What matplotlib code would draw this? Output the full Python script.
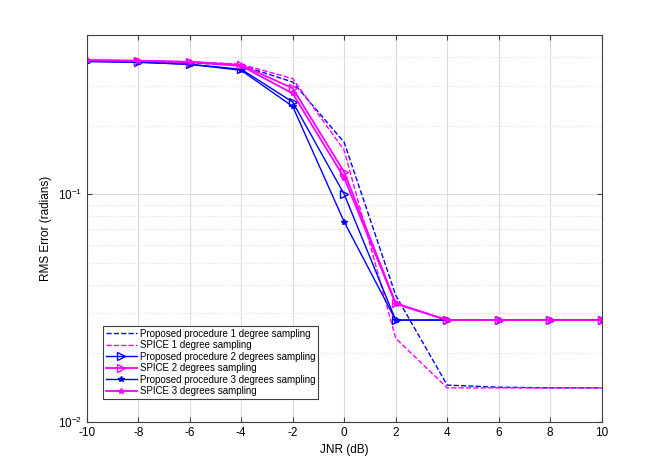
import numpy as np
import matplotlib
matplotlib.use('Agg')
import matplotlib.pyplot as plt

jnr = [-10, -8, -6, -4, -2, 0, 2, 4, 6, 8, 10]

prop_1deg = [0.385, 0.382, 0.378, 0.368, 0.311, 0.169, 0.036, 0.0145, 0.0142, 0.0141, 0.0141]
spice_1deg = [0.388, 0.386, 0.382, 0.372, 0.322, 0.156, 0.0233, 0.0141, 0.0141, 0.0141, 0.0141]
prop_2deg = [0.383, 0.380, 0.372, 0.354, 0.254, 0.100, 0.028, 0.028, 0.028, 0.028, 0.028]
spice_2deg = [0.388, 0.386, 0.381, 0.370, 0.292, 0.125, 0.0332, 0.028, 0.028, 0.028, 0.028]
prop_3deg = [0.383, 0.380, 0.372, 0.350, 0.243, 0.0756, 0.028, 0.028, 0.028, 0.028, 0.028]
spice_3deg = [0.387, 0.385, 0.380, 0.366, 0.277, 0.118, 0.0330, 0.028, 0.028, 0.028, 0.028]

plt.rcParams['font.family'] = ['Liberation Sans', 'DejaVu Sans']
plt.rcParams['axes.unicode_minus'] = False

fig = plt.figure(figsize=(6.64, 4.74), dpi=100)
ax = fig.add_axes([0.1306, 0.110, 0.7755, 0.816])

ax.semilogy(jnr, prop_1deg, 'b--', lw=1.0, label='Proposed procedure 1 degree sampling')
ax.semilogy(jnr, spice_1deg, '--', color='magenta', lw=1.0, label='SPICE 1 degree sampling')
ax.semilogy(jnr, prop_2deg, 'b-', marker='>', mfc='none', ms=6, lw=1.0,
            label='Proposed procedure 2 degrees sampling')
ax.semilogy(jnr, spice_2deg, '-', color='magenta', marker='>', mfc='none', ms=6, lw=1.3,
            label='SPICE 2 degrees sampling')
ax.semilogy(jnr, prop_3deg, 'b-', marker='*', ms=4, lw=1.0,
            label='Proposed procedure 3 degrees sampling')
ax.semilogy(jnr, spice_3deg, '-', color='magenta', marker='*', ms=4, lw=1.3,
            label='SPICE 3 degrees sampling')

ax.set_xlim(-10, 10)
ax.set_ylim(0.01, 0.5)
ax.set_xticks(np.arange(-10, 11, 2))
ax.grid(True, which='major', color='#dcdcdc', lw=0.8)
ax.grid(True, which='minor', color='#dcdcdc', lw=0.8, ls=':')
ax.tick_params(which='both', direction='in', top=True, right=True, labelsize=8.5,
               color='#404040')
ax.tick_params(which='minor', length=0)
for s in ax.spines.values():
    s.set_color('#404040')
    s.set_linewidth(0.8)

ax.set_xlabel('JNR (dB)', fontsize=8.5)
ax.set_ylabel('RMS Error (radians)', fontsize=8.5)

leg = ax.legend(loc='lower left', bbox_to_anchor=(0.031, 0.059), fontsize=7,
                fancybox=False, framealpha=1, edgecolor='#404040', handlelength=3.2,
                borderpad=0.3, labelspacing=0.15, handletextpad=0.3, borderaxespad=0)
leg.get_frame().set_linewidth(0.8)

fig.savefig('out.png', dpi=100)
